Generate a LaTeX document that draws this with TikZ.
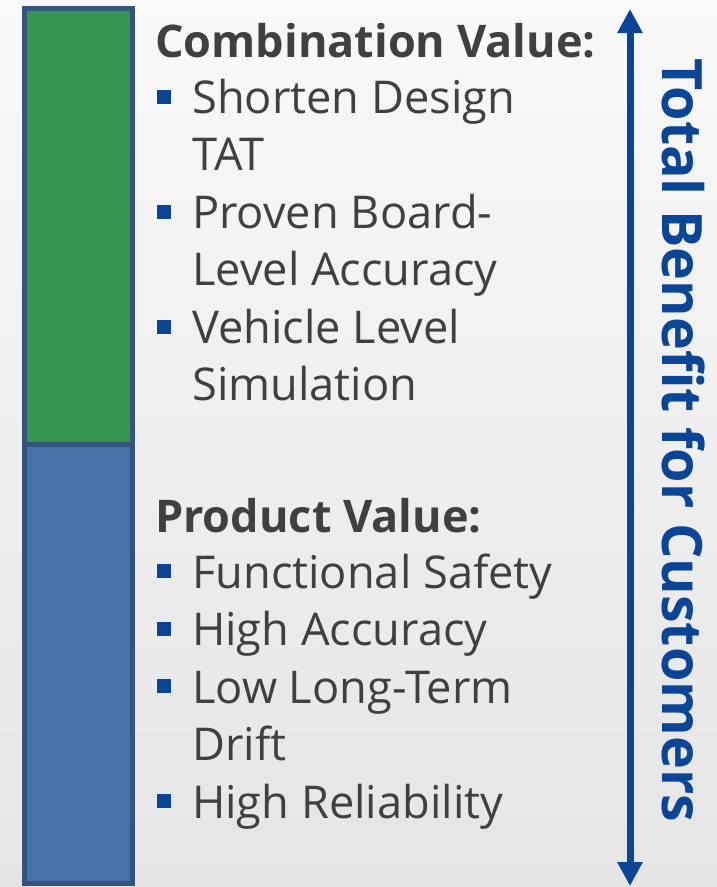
\documentclass[tikz,border=0pt]{standalone}
\usepackage{fontspec}
\setmainfont{Open Sans}
\usetikzlibrary{arrows.meta}
\definecolor{bargreen}{HTML}{36954E}
\definecolor{barblue}{HTML}{4672A8}
\definecolor{barline}{HTML}{34547E}
\definecolor{accent}{HTML}{0B4596}
\definecolor{txt}{HTML}{404040}
\definecolor{bgtop}{HTML}{F9F9F9}
\definecolor{bgbot}{HTML}{E5E5E5}
\tikzset{
  bar/.style={draw=barline, line width=5pt, minimum width=108pt, inner sep=0pt, outer sep=0pt},
  head/.style={anchor=base west, inner sep=0pt, text=txt, font=\fontsize{45}{54}\selectfont\bfseries},
  item/.style={anchor=base west, inner sep=0pt, text=txt, font=\fontsize{45.2}{54}\selectfont},
  bul/.style={fill=accent, minimum size=14pt, inner sep=0pt, outer sep=0pt},
}
\begin{document}
\begin{tikzpicture}[x=1pt,y=-1pt]
\useasboundingbox (0,0) rectangle (717,887);
\shade[top color=bgtop, bottom color=bgbot] (0,0) rectangle (717,887);
% bars
\node[bar, fill=bargreen, minimum height=436pt] (gbar) at (78.5,226.5) {};
\node[bar, fill=barblue, minimum height=439pt] (bbar) at (78.5,664) {};
% arrow
\coordinate (atop) at (630,9);
\coordinate (abot) at (630,886);
\draw[accent, line width=7pt, {Triangle[length=24pt,width=24pt]}-{Triangle[length=24pt,width=24pt]}] (atop) -- (abot);
\node[rotate=-90, anchor=base west, inner sep=0pt, text=accent, font=\fontsize{55.7}{60}\selectfont\bfseries] (total) at (662,58) {Total Benefit for Customers};
% top block
\node[head] (h1) at (155,57) {Combination Value:};
\node[item] (t1) at (192,113) {Shorten Design};
\node[item] (t1b) at (192,170.5) {TAT};
\node[item] (t2) at (192,228) {Proven Board-};
\node[item] (t2b) at (192,285.5) {Level Accuracy};
\node[item] (t3) at (192,343) {Vehicle Level};
\node[item] (t3b) at (192,400.5) {Simulation};
\node[bul] (b1) at (164,97) {};
\node[bul] (b2) at (164,212) {};
\node[bul] (b3) at (164,327) {};
% bottom block
\node[head] (h2) at (155,532) {Product Value:};
\node[item] (u1) at (192,588) {Functional Safety};
\node[item] (u2) at (192,645.5) {High Accuracy};
\node[item] (u3) at (192,703) {Low Long-Term};
\node[item] (u3b) at (192,760.5) {Drift};
\node[item] (u4) at (192,818) {High Reliability};
\node[bul] (c1) at (164,571) {};
\node[bul] (c2) at (164,628.5) {};
\node[bul] (c3) at (164,686) {};
\node[bul] (c4) at (164,801) {};
\end{tikzpicture}
\end{document}
